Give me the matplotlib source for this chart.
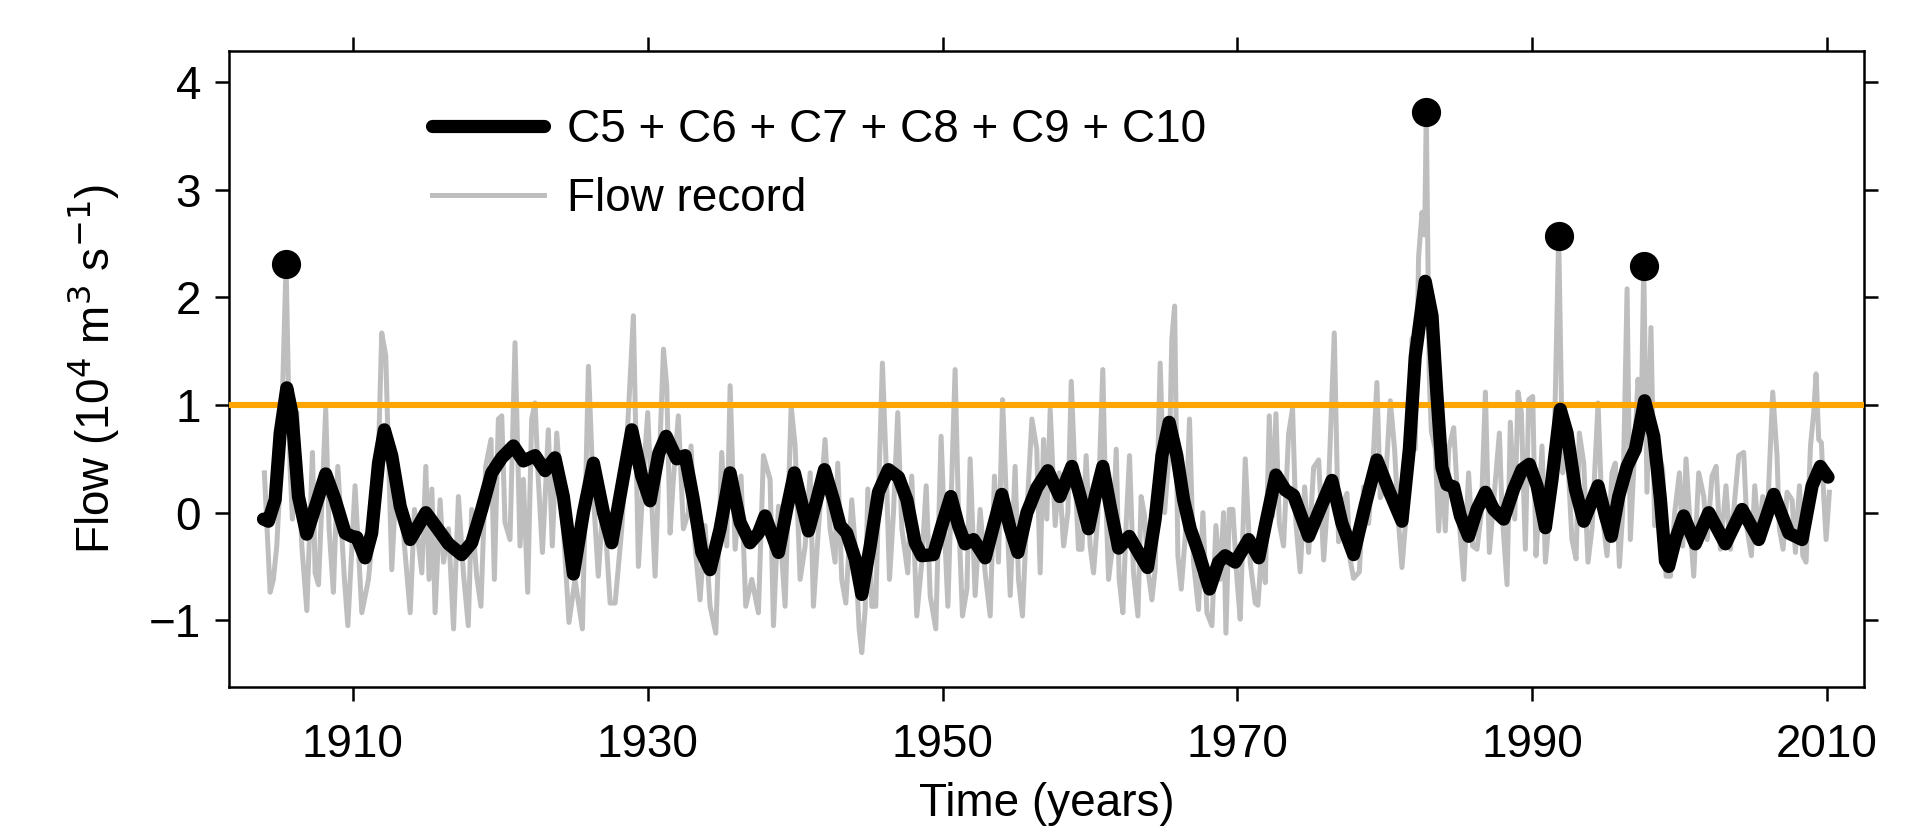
import numpy as np
import matplotlib
matplotlib.use("Agg")
import matplotlib.pyplot as plt

plt.rcParams['font.family'] = ['Liberation Sans', 'DejaVu Sans']

# monthly flow record (10^4 m^3/s): peaks and troughs
flow_year = [
    1904.00, 1904.39, 1904.61, 1904.84, 1905.07, 1905.47, 1905.74, 1905.90, 1906.20, 1906.54,
    1906.88, 1907.26, 1907.44, 1907.67, 1908.16, 1908.39, 1908.68, 1908.98, 1909.43, 1909.66,
    1910.15, 1910.61, 1911.06, 1911.69, 1911.96, 1912.23, 1912.64, 1912.98, 1913.43, 1913.89,
    1914.18, 1914.68, 1914.95, 1915.17, 1915.36, 1915.58, 1915.92, 1916.15, 1916.49, 1916.83,
    1917.16, 1917.50, 1917.83, 1918.06, 1918.40, 1918.69, 1919.01, 1919.37, 1919.60, 1919.87,
    1920.10, 1920.32, 1920.66, 1921.00, 1921.34, 1921.57, 1921.86, 1922.13, 1922.36, 1922.58,
    1922.86, 1923.26, 1923.53, 1923.83, 1924.28, 1924.66, 1925.07, 1925.57, 1925.98, 1926.32,
    1926.65, 1927.00, 1927.45, 1927.79, 1928.24, 1928.69, 1929.03, 1929.37, 1929.71, 1930.00,
    1930.27, 1930.50, 1931.07, 1931.29, 1931.52, 1931.74, 1932.08, 1932.42, 1932.76, 1932.94,
    1933.21, 1933.55, 1933.89, 1934.23, 1934.62, 1935.02, 1935.36, 1935.59, 1935.93, 1936.33,
    1936.65, 1937.06, 1937.51, 1937.85, 1938.30, 1938.53, 1938.87, 1939.32, 1939.73, 1940.00,
    1940.34, 1940.68, 1941.02, 1941.24, 1941.58, 1942.03, 1942.37, 1942.71, 1942.89, 1943.16,
    1943.44, 1943.84, 1944.07, 1944.34, 1944.52, 1944.75, 1944.93, 1945.20, 1945.47, 1945.70,
    1945.92, 1946.15, 1946.40, 1946.67, 1946.96, 1947.24, 1947.64, 1947.91, 1948.25, 1948.59,
    1948.89, 1949.16, 1949.54, 1949.90, 1950.13, 1950.36, 1950.85, 1951.08, 1951.35, 1951.65,
    1951.87, 1952.21, 1952.55, 1952.89, 1953.23, 1953.52, 1953.79, 1954.07, 1954.36, 1954.59,
    1954.92, 1955.15, 1955.42, 1955.72, 1956.06, 1956.39, 1956.62, 1956.85, 1957.07, 1957.30,
    1957.64, 1957.91, 1958.21, 1958.50, 1958.73, 1958.95, 1959.22, 1959.45, 1959.74, 1960.01,
    1960.24, 1960.53, 1960.87, 1961.03, 1961.26, 1961.53, 1961.78, 1961.98, 1962.23, 1962.46,
    1962.68, 1962.95, 1963.25, 1963.47, 1963.70, 1963.93, 1964.20, 1964.42, 1964.76, 1965.06,
    1965.40, 1965.55, 1965.74, 1965.96, 1966.19, 1966.50, 1966.75, 1967.02, 1967.36, 1967.66,
    1967.93, 1968.27, 1968.54, 1968.83, 1969.06, 1969.22, 1969.45, 1969.69, 1969.97, 1970.19,
    1970.53, 1970.87, 1971.21, 1971.39, 1971.66, 1971.89, 1972.16, 1972.39, 1972.61, 1972.84,
    1973.13, 1973.47, 1973.74, 1973.97, 1974.26, 1974.56, 1974.83, 1975.17, 1975.51, 1975.85,
    1976.18, 1976.57, 1976.86, 1977.13, 1977.43, 1977.65, 1977.88, 1978.27, 1978.56, 1978.90,
    1979.24, 1979.46, 1979.69, 1980.03, 1980.37, 1980.66, 1980.93, 1981.16, 1981.50, 1981.84,
    1982.06, 1982.29, 1982.52, 1982.70, 1982.81, 1983.01, 1983.15, 1983.42, 1983.65, 1983.87,
    1984.10, 1984.33, 1984.67, 1984.96, 1985.35, 1985.68, 1985.96, 1986.25, 1986.54, 1986.82,
    1987.09, 1987.45, 1987.77, 1987.95, 1988.29, 1988.51, 1988.81, 1989.03, 1989.26, 1989.53,
    1989.76, 1990.03, 1990.25, 1990.43, 1990.66, 1990.89, 1991.18, 1991.45, 1991.79, 1992.06,
    1992.36, 1992.69, 1992.97, 1993.19, 1993.49, 1993.78, 1994.05, 1994.46, 1994.73, 1995.07,
    1995.41, 1995.63, 1995.91, 1996.13, 1996.43, 1996.65, 1996.95, 1997.17, 1997.40, 1997.56,
    1997.78, 1998.05, 1998.30, 1998.57, 1998.85, 1999.07, 1999.37, 1999.66, 1999.98, 2000.20,
    2000.43, 2000.72, 2000.95, 2001.29, 2001.63, 2001.86, 2002.19, 2002.47, 2002.76, 2003.14,
    2003.44, 2003.73, 2004.00, 2004.34, 2004.57, 2004.86, 2005.09, 2005.36, 2005.63, 2005.93,
    2006.31, 2006.60, 2006.76, 2007.01, 2007.28, 2007.62, 2007.85, 2008.12, 2008.35, 2008.57,
    2008.87, 2009.09, 2009.25, 2009.43, 2009.61, 2009.77, 2009.93, 2010.15,
]
flow_value = [
    0.37, -0.74, -0.62, -0.31, 0.31, 2.31, 0.43, -0.06, 0.93, -0.31,
    -0.91, 0.56, -0.56, -0.67, 0.96, -0.15, -0.74, 0.43, -0.62, -1.05,
    0.25, -0.93, -0.62, 0.31, 1.67, 1.46, -0.53, 0.40, -0.19, -0.93,
    0.03, -0.56, 0.43, -0.62, 0.22, -0.93, 0.12, -0.46, -0.15, -1.08,
    0.15, -0.56, -1.05, 0.03, -0.59, -0.87, 0.43, 0.68, -0.62, 0.87,
    0.90, -0.09, -0.25, 1.58, -0.31, 0.31, -0.74, 0.87, 1.02, 0.31,
    -0.37, 0.77, -0.31, 0.74, -0.15, -1.02, -0.62, -1.08, 1.36, 0.15,
    -0.59, 0.15, -0.84, -0.84, -0.15, 0.93, 1.83, -0.50, 0.34, 0.93,
    0.12, -0.59, 1.52, 1.18, -0.19, 0.31, 0.90, -0.15, 0.00, 0.62,
    -0.31, -0.81, -0.12, -0.87, -1.12, 0.56, -0.31, 1.18, -0.34, 0.34,
    -0.87, -0.62, -0.93, 0.53, 0.31, -1.05, 0.06, -0.87, 0.99, 0.62,
    -0.62, -0.31, 0.37, -0.87, -0.15, 0.68, -0.15, -0.46, 0.46, -0.62,
    -0.84, 0.12, -0.31, -1.08, -1.30, -0.90, 0.22, -0.87, -0.87, 0.37,
    1.39, 0.53, -0.62, 0.00, 0.93, -0.15, -0.56, 0.34, -0.96, -0.46,
    0.25, -0.77, -1.08, 0.71, -0.15, -0.87, 1.33, 0.00, -0.96, -0.71,
    0.50, -0.77, 0.03, -0.56, -0.96, 0.34, -0.46, 1.05, 0.00, -0.77,
    0.43, -0.62, -0.96, 0.00, 0.87, 0.59, -0.56, 0.68, -0.06, 0.96,
    -0.12, 0.37, -0.31, 0.00, 1.22, 0.46, -0.34, -0.34, 0.53, -0.31,
    -0.56, -0.03, 1.33, 0.31, -0.62, -0.31, 0.59, -0.62, -0.93, -0.09,
    0.53, -0.56, -0.96, 0.15, -0.03, -0.53, -0.81, -0.53, 1.39, 0.00,
    0.62, 1.61, 1.92, -0.40, -0.71, -0.15, 0.87, -0.46, -0.90, 0.00,
    -0.93, -1.05, -0.12, -0.62, 0.00, -1.12, 0.03, 0.03, -0.62, -0.99,
    0.50, -0.46, -0.84, -0.86, -0.31, -0.65, 0.90, -0.03, 0.92, -0.10,
    -0.31, 0.73, 0.97, -0.10, -0.55, 0.24, -0.37, 0.42, 0.49, -0.44,
    0.24, 1.67, -0.27, 0.07, 0.18, -0.44, -0.61, -0.55, 0.24, -0.10,
    0.59, 1.21, 0.14, 0.24, 1.04, 0.59, -0.10, -0.51, 0.07, 1.62,
    0.59, 2.38, 2.79, 2.58, 3.72, 1.28, 0.76, 0.59, -0.17, 0.42,
    -0.17, 0.59, 0.79, 0.07, -0.62, 0.37, -0.31, -0.34, 0.00, 1.12,
    -0.37, 0.22, 0.74, 0.00, -0.67, 0.84, -0.06, 1.12, 0.93, -0.34,
    1.05, 1.08, -0.40, 0.00, 0.62, -0.46, 0.00, 0.37, 2.57, 0.37,
    0.62, -0.25, -0.43, 0.74, 0.46, -0.46, -0.15, 1.02, 0.00, -0.40,
    0.37, 0.46, -0.50, 0.00, 2.08, -0.25, 0.62, 1.24, 0.93, 2.29,
    0.19, 1.72, -0.12, 0.56, 0.40, -0.59, -0.59, 0.00, 0.37, -0.31,
    0.50, -0.15, -0.59, 0.37, 0.15, -0.25, 0.34, 0.43, -0.34, 0.25,
    -0.34, 0.12, 0.53, 0.56, -0.15, -0.40, 0.25, -0.22, 0.15, -0.09,
    1.12, 0.53, -0.15, -0.34, 0.19, 0.12, -0.37, 0.25, -0.40, -0.46,
    0.62, 0.93, 1.29, 0.68, 0.65, 0.15, -0.25, 0.19,
]

# sum of components C5..C10
imf_year = [
    1903.94, 1904.27, 1904.73, 1905.07, 1905.52, 1905.86, 1906.31, 1906.87, 1907.33, 1908.16,
    1908.80, 1909.48, 1909.93, 1910.27, 1910.83, 1911.28, 1911.74, 1912.14, 1912.64, 1913.21,
    1913.89, 1914.45, 1914.95, 1915.70, 1916.49, 1917.38, 1918.06, 1918.74, 1919.42, 1920.10,
    1920.89, 1921.57, 1922.36, 1923.04, 1923.71, 1924.28, 1924.96, 1925.64, 1926.32, 1927.00,
    1927.56, 1928.12, 1928.92, 1929.59, 1930.16, 1930.75, 1931.25, 1931.97, 1932.54, 1933.10,
    1933.67, 1934.23, 1934.91, 1935.59, 1936.27, 1936.94, 1937.51, 1937.96, 1938.87, 1939.43,
    1939.95, 1940.90, 1941.47, 1941.99, 1942.60, 1943.05, 1943.50, 1944.07, 1944.52, 1945.09,
    1945.65, 1946.33, 1947.01, 1947.58, 1948.14, 1948.59, 1949.38, 1949.95, 1950.56, 1951.08,
    1951.53, 1952.10, 1952.89, 1953.46, 1954.02, 1954.59, 1955.11, 1955.72, 1956.39, 1957.14,
    1957.95, 1958.77, 1959.34, 1959.90, 1960.35, 1960.87, 1961.37, 1961.94, 1962.66, 1963.29,
    1963.90, 1964.42, 1964.88, 1965.37, 1965.89, 1966.35, 1966.80, 1967.36, 1968.11, 1968.72,
    1969.17, 1969.85, 1970.76, 1971.45, 1971.89, 1972.61, 1973.25, 1973.81, 1974.83, 1975.62,
    1976.41, 1977.09, 1977.88, 1978.67, 1979.46, 1980.26, 1981.16, 1981.66, 1982.06, 1982.74,
    1983.20, 1983.53, 1983.87, 1984.21, 1984.67, 1985.12, 1985.68, 1986.25, 1986.82, 1987.38,
    1988.06, 1988.74, 1989.30, 1989.80, 1990.32, 1990.89, 1991.34, 1991.90, 1992.36, 1992.92,
    1993.49, 1994.05, 1994.46, 1994.96, 1995.36, 1995.86, 1996.43, 1996.99, 1997.62, 1998.24,
    1998.69, 1999.03, 1999.25, 1999.71, 2000.27, 2001.06, 2001.97, 2003.10, 2004.23, 2005.36,
    2006.38, 2007.40, 2008.30, 2008.98, 2009.54, 2010.06,
]
imf_value = [
    -0.06, -0.08, 0.12, 0.74, 1.16, 0.93, 0.15, -0.20, 0.00, 0.36,
    0.12, -0.19, -0.22, -0.23, -0.42, -0.19, 0.46, 0.77, 0.53, 0.06,
    -0.25, -0.12, 0.00, -0.14, -0.29, -0.39, -0.28, 0.03, 0.37, 0.51,
    0.62, 0.48, 0.53, 0.39, 0.51, 0.15, -0.57, 0.00, 0.46, 0.00,
    -0.28, 0.15, 0.77, 0.34, 0.11, 0.55, 0.71, 0.50, 0.53, 0.12,
    -0.37, -0.53, -0.15, 0.37, -0.09, -0.28, -0.19, -0.03, -0.37, 0.03,
    0.37, -0.17, 0.12, 0.40, 0.12, -0.12, -0.19, -0.43, -0.76, -0.31,
    0.19, 0.40, 0.33, 0.12, -0.28, -0.40, -0.39, -0.12, 0.15, -0.12,
    -0.29, -0.25, -0.42, -0.12, 0.17, -0.15, -0.37, 0.00, 0.23, 0.39,
    0.15, 0.43, 0.15, -0.15, 0.15, 0.43, 0.06, -0.33, -0.22, -0.37,
    -0.51, -0.06, 0.53, 0.84, 0.53, 0.12, -0.15, -0.37, -0.71, -0.46,
    -0.40, -0.46, -0.25, -0.42, -0.12, 0.35, 0.21, 0.16, -0.22, 0.04,
    0.30, -0.10, -0.39, 0.07, 0.49, 0.21, -0.08, 0.59, 1.45, 2.15,
    1.83, 1.10, 0.42, 0.26, 0.24, -0.03, -0.22, 0.03, 0.19, 0.03,
    -0.06, 0.22, 0.40, 0.45, 0.25, -0.14, 0.31, 0.96, 0.74, 0.22,
    -0.08, 0.11, 0.25, -0.03, -0.22, 0.15, 0.43, 0.59, 1.04, 0.71,
    0.13, -0.45, -0.50, -0.25, -0.03, -0.29, 0.00, -0.29, 0.03, -0.25,
    0.17, -0.19, -0.25, 0.25, 0.43, 0.33,
]

# extreme floods marked with dots
peak_year = [1905.47, 1982.81, 1991.79, 1997.56]
peak_value = [2.31, 3.72, 2.57, 2.29]

threshold = 1.0

fig = plt.figure(figsize=(19.21, 8.31), dpi=100)
ax = fig.add_axes([229 / 1921, 1 - 687 / 831, 1635 / 1921, 636 / 831])

ax.plot(flow_year, flow_value, color='#BEBEBE', lw=3.6, label='Flow record', zorder=2)
ax.axhline(threshold, color='#FFA500', lw=4.4, zorder=3)
ax.plot(imf_year, imf_value, color='black', lw=9.5, solid_joinstyle='round',
        solid_capstyle='round', label='C5 + C6 + C7 + C8 + C9 + C10', zorder=4)
ax.plot(peak_year, peak_value, 'o', color='black', ms=20, zorder=5)

ax.set_xlim(1901.6, 2012.5)
ax.set_ylim(-1.62, 4.29)
ax.set_xticks([1910, 1930, 1950, 1970, 1990, 2010])
ax.set_yticks([-1, 0, 1, 2, 3, 4])

fs = 33
ax.tick_params(direction='out', length=10, width=1.8, top=True, right=True,
               labeltop=False, labelright=False, labelsize=fs)
ax.tick_params(axis='x', pad=16)
ax.tick_params(axis='y', pad=10)
for sp in ax.spines.values():
    sp.set_linewidth(1.8)

ax.set_xlabel('Time (years)', fontsize=fs, labelpad=11)
ax.set_ylabel(r'Flow (10$^4$ m$^3$ s$^{-1}$)', fontsize=fs, labelpad=20)

h, l = ax.get_legend_handles_labels()
ax.legend([h[1], h[0]], [l[1], l[0]], loc='upper left', bbox_to_anchor=(0.110, 0.946),
          frameon=False, fontsize=fs, borderpad=0, handlelength=2.45,
          handletextpad=0.5, labelspacing=0.55)

fig.savefig('out.png', dpi=100)
